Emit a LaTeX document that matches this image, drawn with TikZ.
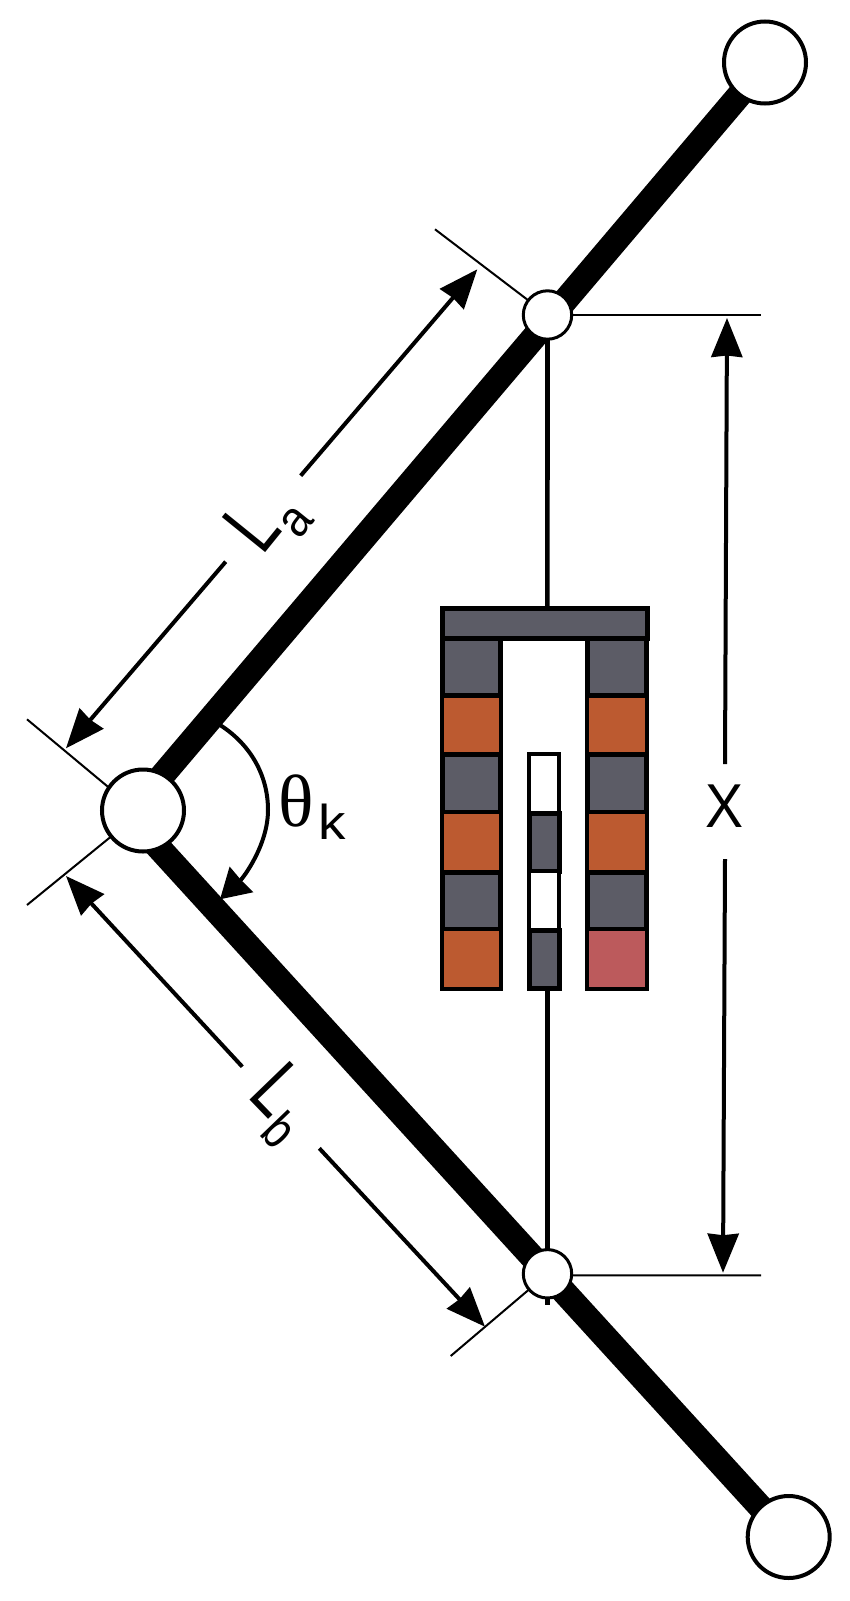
\documentclass[tikz,border=0pt]{standalone}
\usepackage{fontspec}
\usepackage{graphicx}
\setmainfont{Liberation Sans}
\newfontfamily\thetafont{Liberation Serif}
\usetikzlibrary{arrows.meta,backgrounds}
\definecolor{coilgray}{HTML}{5C5C66}
\definecolor{coilorange}{HTML}{BC5A30}
\definecolor{coilpink}{HTML}{BC5A5C}
\newcommand{\fs}[1]{\fontsize{#1}{#1}\selectfont}
\tikzset{
  bigjoint/.style={circle,draw=black,fill=white,line width=4pt,inner sep=0pt,outer sep=0pt,minimum size=82pt},
  smalljoint/.style={circle,draw=black,fill=white,line width=3pt,inner sep=0pt,outer sep=0pt,minimum size=48.4pt},
  limb/.style={line width=25pt,black},
  rod/.style={line width=4.6pt,black},
  tick/.style={line width=2pt,black},
  dimarrow/.style={line width=4pt,black,-{Stealth[length=39pt,width=31pt,inset=1.5pt]}},
  anglearrow/.style={line width=4pt,black,-{Stealth[length=29pt,width=34pt,inset=0.5pt]}},
  graycell/.style={draw=black,fill=coilgray,line width=5pt},
  orangecell/.style={draw=black,fill=coilorange,line width=4pt},
  pinkcell/.style={draw=black,fill=coilpink,line width=4pt},
  whitecell/.style={draw=black,fill=white,line width=4pt},
  lbl/.style={inner sep=0pt,outer sep=0pt,text=black},
}
\begin{document}
\begin{tikzpicture}[x=1pt,y=-1pt]
\useasboundingbox (0,0) rectangle (849,1601);
% joints
\node[bigjoint] (top) at (765,62.5) {};
\node[smalljoint] (upper) at (547.5,315) {};
\node[bigjoint] (knee) at (143,810.5) {};
\node[smalljoint] (lower) at (547.5,1273.8) {};
\node[bigjoint] (bottom) at (788.7,1537) {};
% free ends
\coordinate (kneeA) at (139,803);
\coordinate (kneeB) at (133.5,820);
\coordinate (kneeTickHub) at (143,816);
\coordinate (barTop) at (547.4,606);
\coordinate (coilBottom) at (547.4,989);
\coordinate (rodEnd) at (547.4,1305);
\coordinate (tickUL) at (435,229.3);
\coordinate (tickKU) at (27,719.3);
\coordinate (tickKL) at (27,905);
\coordinate (tickLL) at (450.7,1356);
\coordinate (tickUR) at (761,315);
\coordinate (tickLR) at (761,1275.4);
\begin{scope}[on background layer]
  \fill[white] (0,0) rectangle (849,1601);
  \draw[rod] (upper.center) -- (barTop);
  \draw[rod] (coilBottom) -- (rodEnd);
  \draw[limb] (kneeA) -- ([xshift=2pt]top.center);
  \draw[limb] (kneeB) -- ([xshift=-1pt]bottom.center);
  \draw[tick] (tickUL) -- (upper.center);
  \draw[tick] (tickKU) -- (kneeTickHub);
  \draw[tick] (tickKL) -- (knee.center);
  \draw[tick] (tickLL) -- (lower.center);
  \draw[tick] (upper.center) -- (tickUR);
  \draw[tick] ([yshift=-1.6pt]lower.center) -- (tickLR);
\end{scope}
% coil: top bar
\draw[graycell] (442.5,608.5) rectangle (647,638);
% left column
\draw[graycell] (442.5,638) rectangle (500,695.8);
\draw[orangecell] (442,695.8) rectangle (500.5,754.8);
\draw[graycell] (442.5,754.8) rectangle (500,812.3);
\draw[orangecell] (442,812.3) rectangle (500.5,872);
\draw[graycell] (442.5,872) rectangle (500,929);
\draw[orangecell] (442,929) rectangle (500.5,988.5);
% right column
\draw[graycell] (587.5,638) rectangle (646.5,695.8);
\draw[orangecell] (587.2,695.8) rectangle (647,754.8);
\draw[graycell] (587.5,754.8) rectangle (646.5,812.3);
\draw[orangecell] (587.2,812.3) rectangle (647,872);
\draw[graycell] (587.5,872) rectangle (646.5,929);
\draw[pinkcell] (587.2,929) rectangle (647,988.5);
% magnet rod
\draw[whitecell] (529,754) rectangle (559.2,813.3);
\draw[graycell] (529,813.3) rectangle (559.2,871);
\draw[whitecell] (529,871) rectangle (559.2,930);
\draw[graycell] (529,930) rectangle (559.2,988.5);
% labels
\node[lbl,anchor=base west,rotate=51] (La) at (262.2,556.7)
  {\scalebox{.75}[1]{\fs{81}L}\hspace{2pt}\raisebox{-19pt}{\scalebox{.9}[1]{\fs{51}a}}};
\node[lbl,anchor=base west,rotate=-46] (Lb) at (246.9,1096.1)
  {\scalebox{.75}[1]{\fs{81}L}\hspace{1.5pt}\raisebox{-18pt}{\scalebox{.8}[1]{\fs{53}b}}};
\node[lbl] (X) at (725,806) {\scalebox{.92}[1]{\fs{62}X}};
\node[lbl,anchor=base west] (theta) at (278,826.5)
  {{\thetafont\fs{74}θ}\hspace{5pt}\raisebox{-12.8pt}{\scalebox{1.12}[1]{\fs{49}k}}};
% dimension arrows
\coordinate (LaUpS) at (300.7,475.7);
\coordinate (LaUpT) at (477.3,269.3);
\coordinate (LaDnS) at (225.7,561.7);
\coordinate (LaDnT) at (66,748.3);
\coordinate (LbUpS) at (242.3,1066.7);
\coordinate (LbUpT) at (66,876);
\coordinate (LbDnS) at (319.3,1148.3);
\coordinate (LbDnT) at (485,1326.7);
\coordinate (XUpS) at (725,764);
\coordinate (XUpT) at (727,318);
\coordinate (XDnS) at (725,859);
\coordinate (XDnT) at (723,1272.7);
\draw[dimarrow] (LaUpS) -- (LaUpT);
\draw[dimarrow] (LaDnS) -- (LaDnT);
\draw[dimarrow] (LbUpS) -- (LbUpT);
\draw[dimarrow] (LbDnS) -- (LbDnT);
\draw[dimarrow] (XUpS) -- (XUpT);
\draw[dimarrow] (XDnS) -- (XDnT);
% knee angle
\draw[anglearrow] (220,725) .. controls (249.8,743.9) and (268,774.7) .. (268,810)
  .. controls (268,845.3) and (243,878) .. (220,899.3);
\end{tikzpicture}
\end{document}
